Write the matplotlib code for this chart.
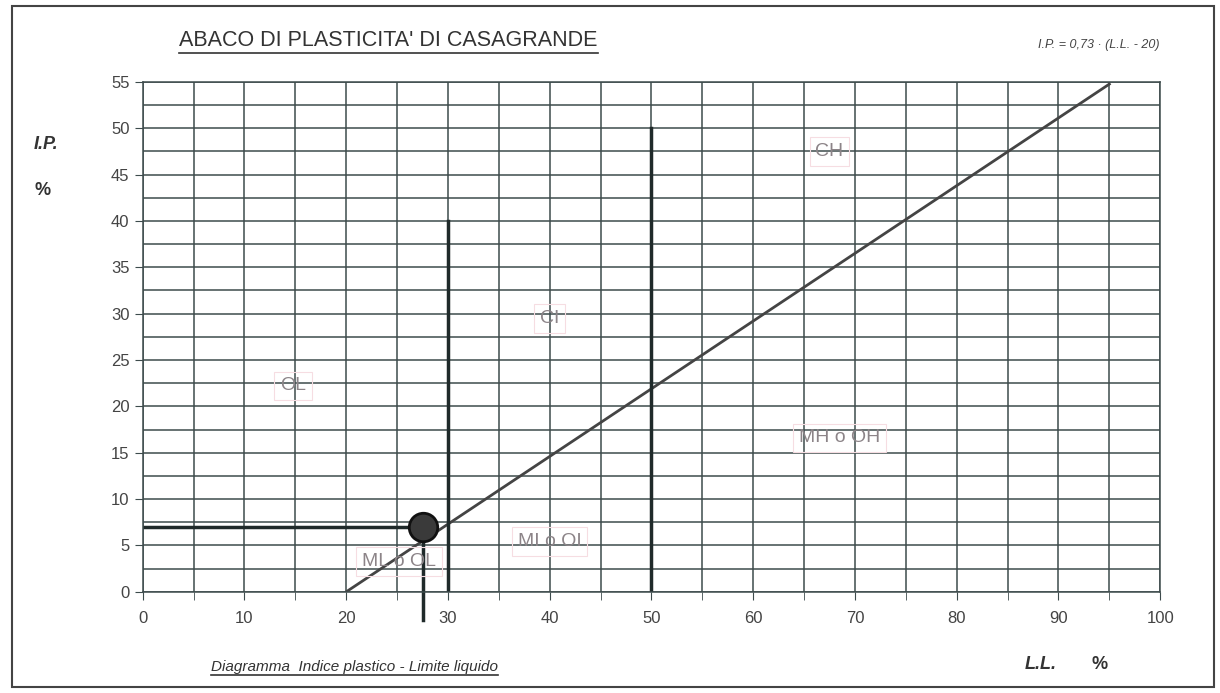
# Abaco di plasticita' di Casagrande
import numpy as np
import matplotlib.pyplot as plt
from matplotlib.lines import Line2D

plt.rcParams['font.family'] = ['Liberation Sans', 'DejaVu Sans']

# A-line: I.P. = 0.73 * (L.L. - 20)
aline_ll = [20, 95]
aline_ip = [0.73 * (v - 20) for v in aline_ll]

# boundary lines (L.L. value, top I.P.)
bound_ll = [30, 50]
bound_top = [40, 50]

# sample point
sample_ll = 27.5
sample_ip = 7

# zone labels
zone_names = ['CH', 'CI', 'OL', 'MH o OH', 'ML o OL', 'MI o OI']
zone_ll = [67.5, 40, 14.8, 68.5, 25.2, 40]
zone_ip = [47.5, 29.5, 22.2, 16.6, 3.3, 5.4]

x_ticks = list(range(0, 101, 10))
y_ticks = list(range(0, 56, 5))

grid_col = '#3d4b4c'
fig = plt.figure(figsize=(12.2, 6.93), dpi=100)
ax = fig.add_axes([0.117, 0.146, 0.834, 0.736])
ax.set_xlim(0, 100)
ax.set_ylim(0, 55)

ax.set_xticks(x_ticks)
ax.set_yticks(y_ticks)
ax.set_xticks(np.arange(0, 101, 5), minor=True)
ax.set_yticks(np.arange(0, 56, 2.5), minor=True)
ax.grid(True, which='both', color=grid_col, lw=1.1)
ax.tick_params(which='both', length=6, color=grid_col, labelsize=12, labelcolor='#444444')
ax.tick_params(axis='y', which='minor', length=0)
ax.tick_params(axis='x', pad=8)
for s in ax.spines.values():
    s.set_color(grid_col)
    s.set_linewidth(1.1)

ax.plot(aline_ll, aline_ip, color='#444444', lw=2)
for ll, top in zip(bound_ll, bound_top):
    ax.plot([ll, ll], [0, top], color='#1f2a2a', lw=2.5)

ax.plot([0, sample_ll], [sample_ip, sample_ip], color='#1f2a2a', lw=2.5)
ax.plot([sample_ll, sample_ll], [sample_ip, -3], color='#1f2a2a', lw=2.5, clip_on=False)
ax.scatter([sample_ll], [sample_ip], s=420, color='#3a3a3a', edgecolor='#111111', lw=2, zorder=5)

for name, x, y in zip(zone_names, zone_ll, zone_ip):
    ax.text(x, y, name, ha='center', va='center', fontsize=14, color='#8c8488',
            bbox=dict(boxstyle='square,pad=0.3', fc='none', ec='#f6dde2', lw=0.8), zorder=4)

# texts around the chart
title = fig.text(0.147, 0.933, "ABACO DI PLASTICITA' DI CASAGRANDE", fontsize=15.5, color='#333333')
fig.text(0.95, 0.931, 'I.P. = 0,73 · (L.L. - 20)', fontsize=9, style='italic', color='#444444', ha='right')
fig.text(0.028, 0.785, 'I.P.', fontsize=13, style='italic', weight='bold', color='#333333')
fig.text(0.028, 0.718, '%', fontsize=13, weight='bold', color='#333333')
caption = fig.text(0.173, 0.032, 'Diagramma  Indice plastico - Limite liquido', fontsize=11, style='italic', color='#333333')
fig.text(0.84, 0.035, 'L.L.', fontsize=13, style='italic', weight='bold', color='#333333')
fig.text(0.895, 0.035, '%', fontsize=13, weight='bold', color='#333333')

# underline title and caption
fig.canvas.draw()
inv = fig.transFigure.inverted()
for t in (title, caption):
    bb = t.get_window_extent().transformed(inv)
    fig.lines.append(Line2D([bb.x0, bb.x1], [bb.y0 - 0.002, bb.y0 - 0.002],
                            transform=fig.transFigure, color='#333333', lw=1.2))

# outer frame
fig.patches.append(plt.Rectangle((0.01, 0.008), 0.985, 0.984, transform=fig.transFigure,
                                 fill=False, ec='#444444', lw=1.5))

fig.savefig('out.png', dpi=100)
